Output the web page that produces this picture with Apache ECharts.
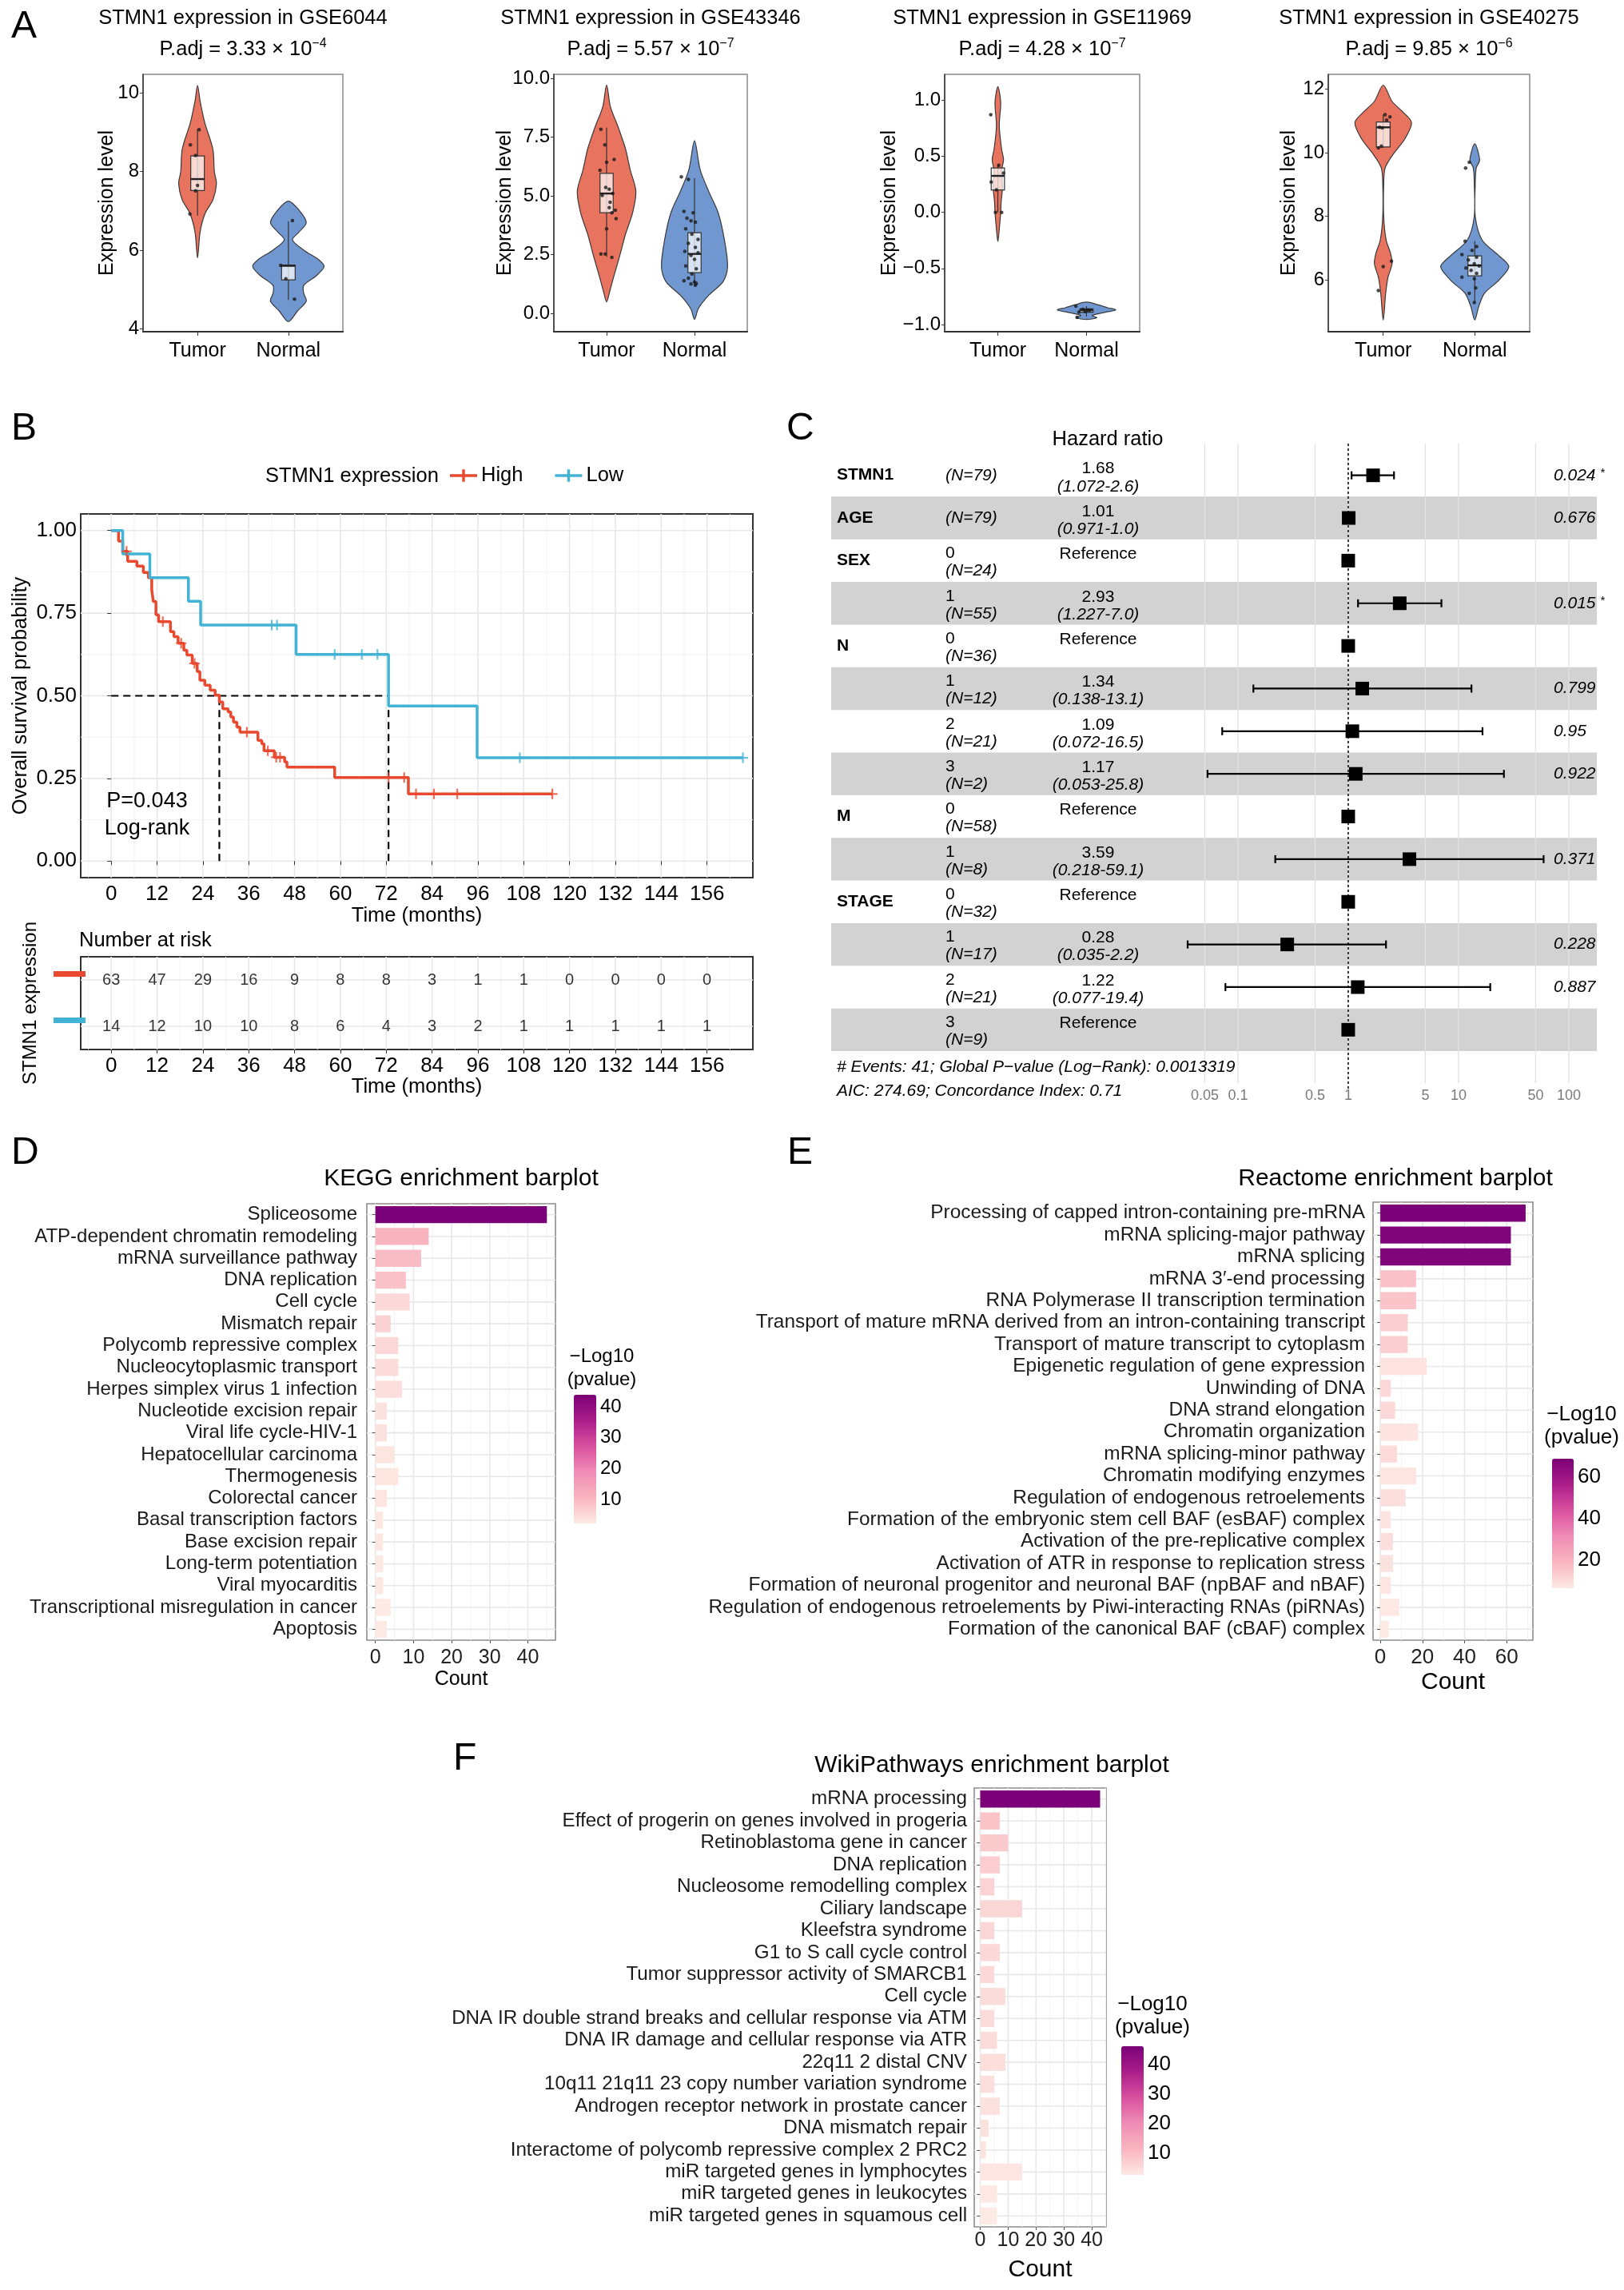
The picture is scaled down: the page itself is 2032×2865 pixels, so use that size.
<!DOCTYPE html>
<html>
<head>
<meta charset="utf-8">
<script src="https://cdn.jsdelivr.net/npm/echarts@6.0.0/dist/echarts.min.js"></script>
<style>
html,body{margin:0;padding:0;background:#ffffff;}
#chart{width:2032px;height:2865px;}
</style>
</head>
<body>
<div id="chart"></div>
<script>
// ====================== DATA ======================
// ---- Panel A: STMN1 expression violins ----
const groupNames = ['Tumor', 'Normal'];
const gseIds = ['GSE6044', 'GSE43346', 'GSE11969', 'GSE40275'];
const padjMantissa = ['3.33', '5.57', '4.28', '9.85'];
const padjExponent = ['−4', '−7', '−7', '−6'];

const gse6044Ticks = [4, 6, 8, 10];
const gse6044TumorY = [10.2, 9.8, 9.25, 8.57, 8.0, 7.69, 7.28, 6.94, 6.46, 5.8];
const gse6044TumorW = [0, 0.028, 0.079, 0.169, 0.185, 0.208, 0.169, 0.084, 0.028, 0];
const gse6044TumorBox = [6.88, 7.52, 7.81, 8.4, 9.08];
const gse6044TumorPts = [[0.017, 9.07], [-0.079, 8.68], [-0.022, 8.41], [0, 7.65], [-0.022, 7.51], [-0.084, 6.92]];
const gse6044NormalY = [7.25, 7.0, 6.7, 6.45, 6.26, 6.0, 5.75, 5.58, 5.35, 5.1, 4.9, 4.7, 4.45, 4.18];
const gse6044NormalW = [0, 0.124, 0.197, 0.112, 0.045, 0.169, 0.337, 0.393, 0.309, 0.169, 0.169, 0.197, 0.101, 0];
const gse6044NormalBox = [4.73, 5.24, 5.6, 5.62, 6.73];
const gse6044NormalPts = [[0.045, 6.75], [-0.084, 5.61], [-0.028, 5.27], [0.067, 4.75]];

const gse43346Ticks = [0, 2.5, 5, 7.5, 10];
const gse43346TumorY = [9.72, 8.8, 7.9, 7.0, 6.1, 5.2, 4.28, 3.37, 2.47, 1.56, 0.88, 0.49];
const gse43346TumorW = [0, 0.043, 0.134, 0.215, 0.269, 0.333, 0.296, 0.215, 0.151, 0.081, 0.032, 0];
const gse43346TumorBox = [2.41, 4.28, 5.1, 5.96, 7.9];
const gse43346TumorPts = [[-0.065, 7.83], [-0.02, 7.17], [0.086, 6.55], [0, 6.43], [-0.075, 6.09], [-0.01, 5.36], [0.03, 5.28], [0.07, 5.1], [-0.05, 5.02], [0.04, 4.73], [0.1, 4.39], [0.06, 4.28], [0.03, 4.5], [0.108, 4.03], [0, 3.6], [-0.065, 2.53], [-0.016, 2.53], [0.06, 2.38]];
const gse43346NormalY = [7.34, 6.1, 5.19, 4.28, 3.15, 2.0, 1.34, 0.77, 0.2, -0.25];
const gse43346NormalW = [0, 0.065, 0.161, 0.269, 0.339, 0.376, 0.323, 0.161, 0.043, 0];
const gse43346NormalBox = [1.15, 1.73, 2.53, 3.43, 5.75];
const gse43346NormalPts = [[-0.15, 5.81], [-0.07, 5.7], [-0.12, 4.34], [-0.016, 4.28], [-0.086, 4.05], [-0.04, 3.94], [0.01, 3.88], [-0.1, 3.6], [-0.03, 3.37], [0.04, 3.15], [-0.07, 2.98], [0.01, 2.81], [-0.11, 2.64], [0.04, 2.58], [-0.04, 2.47], [0, 2.3], [-0.1, 2.02], [0.02, 1.9], [-0.03, 1.68], [-0.07, 1.5], [-0.12, 1.39], [0, 1.34], [-0.04, 1.25], [0.02, 1.28], [0.01, 1.2]];

const gse11969Ticks = [-1, -0.5, 0, 0.5, 1];
const gse11969TumorY = [1.12, 0.98, 0.77, 0.56, 0.47, 0.37, 0.23, 0.09, 0.0, -0.15, -0.26];
const gse11969TumorW = [0, 0.032, 0.016, 0.043, 0.064, 0.043, 0.053, 0.037, 0.032, 0.016, 0];
const gse11969TumorBox = [0.0, 0.2, 0.325, 0.395, 0.42];
const gse11969TumorPts = [[-0.08, 0.87], [0.01, 0.42], [0.064, 0.35], [-0.075, 0.27], [-0.016, 0.2], [-0.027, 0.0], [0.043, 0.0]];
const gse11969NormalY = [-0.80, -0.825, -0.85, -0.87, -0.89, -0.92, -0.94, -0.955];
const gse11969NormalW = [0, 0.133, 0.239, 0.33, 0.213, 0.064, 0.117, 0];
const gse11969NormalBox = [-0.93, -0.89, -0.872, -0.86, -0.836];
const gse11969NormalPts = [[-0.12, -0.836], [-0.04, -0.865], [0.037, -0.872], [-0.016, -0.884], [-0.085, -0.889], [-0.106, -0.936], [0.01, -0.872]];

const gse40275Ticks = [6, 8, 10, 12];
const gse40275TumorY = [12.13, 11.62, 11.29, 10.95, 10.45, 9.94, 9.52, 9.0, 8.0, 7.25, 6.83, 6.5, 6.08, 5.57, 4.73];
const gse40275TumorW = [0, 0.096, 0.213, 0.309, 0.239, 0.106, 0.021, 0.005, 0.005, 0.032, 0.08, 0.096, 0.053, 0.027, 0];
const gse40275TumorBox = [10.15, 10.18, 10.8, 10.97, 11.2];
const gse40275TumorPts = [[0.02, 11.2], [0.074, 11.13], [0.037, 11.03], [-0.04, 10.8], [-0.01, 10.78], [-0.053, 10.15], [-0.02, 10.21], [0, 6.41], [0.09, 6.58], [-0.053, 5.66]];
const gse40275NormalY = [10.28, 9.77, 9.52, 9.0, 8.0, 7.25, 6.75, 6.41, 5.99, 5.57, 5.15, 4.73];
const gse40275NormalW = [0, 0.053, 0.016, 0.005, 0.005, 0.08, 0.266, 0.372, 0.266, 0.106, 0.043, 0];
const gse40275NormalBox = [5.28, 6.12, 6.45, 6.75, 7.21];
const gse40275NormalPts = [[-0.06, 9.7], [-0.1, 9.52], [-0.106, 7.21], [0.02, 7.04], [-0.03, 6.92], [-0.14, 6.79], [0.02, 6.71], [-0.07, 6.62], [-0.005, 6.5], [0.048, 6.43], [-0.096, 6.37], [-0.04, 6.29], [0.02, 6.2], [-0.14, 6.08], [-0.005, 6.03], [0.01, 5.74], [-0.06, 5.57], [-0.005, 5.28]];

// ---- Panel B: Kaplan-Meier ----
const kmTimeTicks = [0, 12, 24, 36, 48, 60, 72, 84, 96, 108, 120, 132, 144, 156];
const kmSurvTicks = [0, 0.25, 0.5, 0.75, 1];
const kmHighSteps = [[0,1],[1.9,0.968],[3,0.937],[4.3,0.907],[6.7,0.892],[8.4,0.873],[9.7,0.857],[10.6,0.82],[11,0.785],[11.7,0.745],[12.4,0.724],[15.5,0.694],[16.4,0.679],[17.5,0.659],[19,0.638],[19.8,0.623],[21.2,0.598],[22.5,0.573],[23.2,0.547],[24.5,0.532],[25.9,0.517],[27.2,0.502],[28.3,0.481],[29.2,0.461],[30.6,0.451],[31.3,0.436],[32,0.42],[32.9,0.405],[33.7,0.39],[38.4,0.365],[39.4,0.355],[40,0.334],[42.7,0.314],[45.4,0.3],[46,0.284],[58.5,0.253],[77.8,0.203],[115.5,0.203]];
const kmHighCensor = [[4,0.937],[13.5,0.724],[18.3,0.659],[21.8,0.598],[35.5,0.39],[41,0.334],[43.2,0.314],[44.2,0.314],[72.6,0.253],[76.7,0.253],[79.8,0.203],[84.5,0.203],[90.6,0.203],[115.5,0.203]];
const kmLowSteps = [[0,1],[3,0.929],[10.1,0.857],[20.2,0.786],[23.4,0.714],[48.4,0.625],[72.6,0.469],[95.8,0.3125],[165.4,0.3125]];
const kmLowCensor = [[42,0.714],[43.4,0.714],[58.5,0.625],[65.6,0.625],[69.7,0.625],[107,0.3125],[165.4,0.3125]];
const kmMedianHigh = 28.3;
const kmMedianLow = 72.6;
const riskHigh = [63, 47, 29, 16, 9, 8, 8, 3, 1, 1, 0, 0, 0, 0];
const riskLow = [14, 12, 10, 10, 8, 6, 4, 3, 2, 1, 1, 1, 1, 1];

// ---- Panel C: Cox forest ----
const coxVar = ['STMN1', 'AGE', 'SEX', '', 'N', '', '', '', 'M', '', 'STAGE', '', '', ''];
const coxLevel = ['', '', '0', '1', '0', '1', '2', '3', '0', '1', '0', '1', '2', '3'];
const coxN = [79, 79, 24, 55, 36, 12, 21, 2, 58, 8, 32, 17, 21, 9];
const coxRef = [false, false, true, false, true, false, false, false, true, false, true, false, false, true];
const coxHR = [1.68, 1.01, 1, 2.93, 1, 1.34, 1.09, 1.17, 1, 3.59, 1, 0.28, 1.22, 1];
const coxLo = [1.072, 0.971, null, 1.227, null, 0.138, 0.072, 0.053, null, 0.218, null, 0.035, 0.077, null];
const coxHi = [2.6, 1.0, null, 7.0, null, 13.1, 16.5, 25.8, null, 59.1, null, 2.2, 19.4, null];
const coxHRText = ['1.68', '1.01', '', '2.93', '', '1.34', '1.09', '1.17', '', '3.59', '', '0.28', '1.22', ''];
const coxCIText = ['(1.072-2.6)', '(0.971-1.0)', '', '(1.227-7.0)', '', '(0.138-13.1)', '(0.072-16.5)', '(0.053-25.8)', '', '(0.218-59.1)', '', '(0.035-2.2)', '(0.077-19.4)', ''];
const coxP = ['0.024', '0.676', '', '0.015', '', '0.799', '0.95', '0.922', '', '0.371', '', '0.228', '0.887', ''];
const coxSig = ['*', '', '', '*', '', '', '', '', '', '', '', '', '', ''];
const forestTicks = [0.05, 0.1, 0.5, 1, 5, 10, 50, 100];
const forestTickText = ['0.05', '0.1', '0.5', '1', '5', '10', '50', '100'];
const coxFooter1 = '# Events: 41; Global P−value (Log−Rank): 0.0013319';
const coxFooter2 = 'AIC: 274.69; Concordance Index: 0.71';

// ---- Panel D: KEGG ----
const keggTerms = ['Spliceosome','ATP-dependent chromatin remodeling','mRNA surveillance pathway','DNA replication','Cell cycle','Mismatch repair','Polycomb repressive complex','Nucleocytoplasmic transport','Herpes simplex virus 1 infection','Nucleotide excision repair','Viral life cycle-HIV-1','Hepatocellular carcinoma','Thermogenesis','Colorectal cancer','Basal transcription factors','Base excision repair','Long-term potentiation','Viral myocarditis','Transcriptional misregulation in cancer','Apoptosis'];
const keggCount = [45, 14, 12, 8, 9, 4, 6, 6, 7, 3, 3, 5, 6, 3, 2, 2, 2, 2, 4, 3];
const keggLogP = [43.9, 10.5, 9.5, 8.5, 5, 6, 5, 4.5, 4, 3.5, 3.5, 3, 3, 3, 2.6, 2.6, 2.4, 2.4, 2.2, 2.2];
const keggXTicks = [0, 10, 20, 30, 40];
const keggCbTicks = [10, 20, 30, 40];

// ---- Panel E: Reactome ----
const reactomeTerms = ['Processing of capped intron-containing pre-mRNA','mRNA splicing-major pathway','mRNA splicing','mRNA 3′-end processing','RNA Polymerase II transcription termination','Transport of mature mRNA derived from an intron-containing transcript','Transport of mature transcript to cytoplasm','Epigenetic regulation of gene expression','Unwinding of DNA','DNA strand elongation','Chromatin organization','mRNA splicing-minor pathway','Chromatin modifying enzymes','Regulation of endogenous retroelements','Formation of the embryonic stem cell BAF (esBAF) complex','Activation of the pre-replicative complex','Activation of ATR in response to replication stress','Formation of neuronal progenitor and neuronal BAF (npBAF and nBAF)','Regulation of endogenous retroelements by Piwi-interacting RNAs (piRNAs)','Formation of the canonical BAF (cBAF) complex'];
const reactomeCount = [69, 62, 62, 17, 17, 13, 13, 22, 5, 7, 18, 8, 17, 12, 5, 6, 6, 5, 9, 4];
const reactomeLogP = [68.9, 67, 67, 16, 15.5, 13, 13, 8, 10.5, 10.5, 8, 10, 7.5, 9, 8, 9, 8.5, 7.5, 7, 6.5];
const reactomeXTicks = [0, 20, 40, 60];
const reactomeCbTicks = [20, 40, 60];

// ---- Panel F: WikiPathways ----
const wikiTerms = ['mRNA processing','Effect of progerin on genes involved in progeria','Retinoblastoma gene in cancer','DNA replication','Nucleosome remodelling complex','Ciliary landscape','Kleefstra syndrome','G1 to S call cycle control','Tumor suppressor activity of SMARCB1','Cell cycle','DNA IR double strand breaks and cellular response via ATM','DNA IR damage and cellular response via ATR','22q11 2 distal CNV','10q11 21q11 23 copy number variation syndrome','Androgen receptor network in prostate cancer','DNA mismatch repair','Interactome of polycomb repressive complex 2 PRC2','miR targeted genes in lymphocytes','miR targeted genes in leukocytes','miR targeted genes in squamous cell'];
const wikiCount = [43, 7, 10, 7, 5, 15, 5, 7, 5, 9, 5, 6, 9, 5, 7, 3, 2, 15, 6, 6];
const wikiLogP = [46.2, 9, 8, 7.5, 6.5, 6, 6, 5.5, 5.5, 5, 5, 5, 4.5, 4.5, 4, 4, 3.8, 3.5, 3, 2.7];
const wikiXTicks = [0, 10, 20, 30, 40];
const wikiCbTicks = [10, 20, 30, 40];

// ====================== STYLE / BUILD ======================
const FONT = "'Liberation Sans', Arial, Helvetica, sans-serif";
const TUMOR_FILL = '#E8735E', NORMAL_FILL = '#7197D1';
const HIGH = '#E8492F', LOW = '#42B3D5';
const PALETTE = ['#FDEAE4', '#F9B5BF', '#F08CB6', '#D9509F', '#AB1E8A', '#7A0177'];
const PLUS = 'path://M-1,-6L1,-6L1,-1L6,-1L6,1L1,1L1,6L-1,6L-1,1L-6,1L-6,-1L-1,-1Z';
const LEG_ICON = 'path://M0,7L40,7L40,11L0,11Z M18,0L22,0L22,18L18,18Z';

const grids = [], xAxes = [], yAxes = [], series = [], graphics = [], visualMaps = [];
function addGrid(g, xa, ya) {
  g.outerBoundsMode = 'none';
  grids.push(g);
  const i = grids.length - 1;
  xa.gridIndex = i; ya.gridIndex = i;
  xa.nameMoveOverlap = false; ya.nameMoveOverlap = false;
  xAxes.push(xa); yAxes.push(ya);
  return i;
}
function txt(x, y, text, o) {
  graphics.push({type: 'text', x: x, y: y, silent: true, z: 100,
    style: Object.assign({text: text, fontFamily: FONT, fontSize: 25, fill: '#000', align: 'center', verticalAlign: 'middle'}, o || {})});
}
function nameStyle(fs) { return {fontSize: fs, fontFamily: FONT, color: '#000'}; }

function gridLineSeries(gi, o) {
  return {
    type: 'custom', xAxisIndex: gi, yAxisIndex: gi, silent: true, z: 0,
    data: [[o.xRef, o.yRef]],
    renderItem: function (params, api) {
      const cs = params.coordSys, ch = [];
      const V = (v, c, w) => { const x = api.coord([v, o.yRef])[0]; ch.push({type: 'line', shape: {x1: x, y1: cs.y, x2: x, y2: cs.y + cs.height}, style: {stroke: c, lineWidth: w}}); };
      const H = (v, c, w) => { const y = api.coord([o.xRef, v])[1]; ch.push({type: 'line', shape: {x1: cs.x, y1: y, x2: cs.x + cs.width, y2: y}, style: {stroke: c, lineWidth: w}}); };
      (o.xMinor || []).forEach(v => V(v, '#F3F3F3', 1));
      (o.yMinor || []).forEach(v => H(v, '#F3F3F3', 1));
      (o.xMajor || []).forEach(v => V(v, '#E8E8E8', 1.6));
      (o.yMajor || []).forEach(v => H(v, '#E8E8E8', 1.6));
      return {type: 'group', children: ch};
    }
  };
}

// ---------- Panel A ----------
const aLayout = [
  {left: 179, width: 250, range: [3.92, 10.48], nameGap: 32, fmt: v => String(v)},
  {left: 693, width: 242, range: [-0.78, 10.17], nameGap: 48, fmt: v => v.toFixed(1)},
  {left: 1182, width: 244, range: [-1.064, 1.23], nameGap: 56, fmt: v => v.toFixed(1).replace('-', '−')},
  {left: 1662, width: 252, range: [4.36, 12.47], nameGap: 36, fmt: v => String(v)}
];
const aData = [
  {ticks: gse6044Ticks, t: [gse6044TumorY, gse6044TumorW, gse6044TumorBox, gse6044TumorPts], n: [gse6044NormalY, gse6044NormalW, gse6044NormalBox, gse6044NormalPts]},
  {ticks: gse43346Ticks, t: [gse43346TumorY, gse43346TumorW, gse43346TumorBox, gse43346TumorPts], n: [gse43346NormalY, gse43346NormalW, gse43346NormalBox, gse43346NormalPts]},
  {ticks: gse11969Ticks, t: [gse11969TumorY, gse11969TumorW, gse11969TumorBox, gse11969TumorPts], n: [gse11969NormalY, gse11969NormalW, gse11969NormalBox, gse11969NormalPts]},
  {ticks: gse40275Ticks, t: [gse40275TumorY, gse40275TumorW, gse40275TumorBox, gse40275TumorPts], n: [gse40275NormalY, gse40275NormalW, gse40275NormalBox, gse40275NormalPts]}
];
function violinSeries(gi, xPos, ys, ws, box, fill) {
  return {
    type: 'custom', xAxisIndex: gi, yAxisIndex: gi, silent: true, z: 2,
    data: [[xPos, box[2]]],
    renderItem: function (params, api) {
      const cx = api.value(0);
      const right = ys.map((y, k) => api.coord([cx + ws[k], y]));
      const left = [];
      for (let k = ys.length - 2; k >= 1; k--) left.push(api.coord([cx - ws[k], ys[k]]));
      const bw = 0.075;
      const pLo = api.coord([cx, box[0]]), pHi = api.coord([cx, box[4]]);
      const q1 = api.coord([cx - bw, box[1]]), q3 = api.coord([cx + bw, box[3]]);
      const mL = api.coord([cx - bw, box[2]]), mR = api.coord([cx + bw, box[2]]);
      return {type: 'group', children: [
        {type: 'polygon', shape: {points: right.concat(left), smooth: 0.3}, style: {fill: fill, stroke: '#3a3a3a', lineWidth: 1.2}},
        {type: 'line', shape: {x1: pLo[0], y1: pLo[1], x2: pHi[0], y2: pHi[1]}, style: {stroke: '#333', lineWidth: 1.2}},
        {type: 'rect', shape: {x: q1[0], y: q3[1], width: q3[0] - q1[0], height: Math.max(q1[1] - q3[1], 1)}, style: {fill: 'rgba(255,255,255,0.72)', stroke: '#333', lineWidth: 1.2}},
        {type: 'line', shape: {x1: mL[0], y1: mL[1], x2: mR[0], y2: mR[1]}, style: {stroke: '#222', lineWidth: 2.4}}
      ]};
    }
  };
}
aLayout.forEach((L, k) => {
  const D = aData[k];
  const gi = addGrid({left: L.left, top: 93, width: L.width, height: 322, show: true, borderColor: '#8a8a8a', borderWidth: 1.5},
    {type: 'value', min: 0.4, max: 2.6,
      axisLine: {show: true, onZero: false, lineStyle: {color: '#333', width: 2.2}},
      axisTick: {show: true, customValues: [1, 2], length: 5, lineStyle: {color: '#333'}},
      axisLabel: {customValues: [1, 2], formatter: v => groupNames[Math.round(v) - 1], fontSize: 25, fontFamily: FONT, color: '#000', margin: 12},
      splitLine: {show: false}},
    {type: 'value', min: L.range[0], max: L.range[1],
      axisLine: {show: true, onZero: false, lineStyle: {color: '#333', width: 1.5}},
      axisTick: {show: true, customValues: D.ticks, length: 4, lineStyle: {color: '#333'}},
      axisLabel: {customValues: D.ticks, formatter: L.fmt, fontSize: 24, fontFamily: FONT, color: '#000', margin: 5},
      splitLine: {show: false},
      name: 'Expression level', nameLocation: 'middle', nameGap: L.nameGap, nameTextStyle: nameStyle(25)}
  );
  series.push(violinSeries(gi, 1, D.t[0], D.t[1], D.t[2], TUMOR_FILL));
  series.push(violinSeries(gi, 2, D.n[0], D.n[1], D.n[2], NORMAL_FILL));
  series.push({type: 'scatter', xAxisIndex: gi, yAxisIndex: gi, silent: true, z: 5, symbolSize: 4.5,
    itemStyle: {color: '#1a1a1a'},
    data: D.t[3].map(p => [1 + p[0], p[1]]).concat(D.n[3].map(p => [2 + p[0], p[1]]))});
  const cx = L.left + L.width / 2;
  txt(cx, 23, 'STMN1 expression in ' + gseIds[k], {fontSize: 25.5});
  txt(cx, 62, 'P.adj = ' + padjMantissa[k] + ' × 10{sup|' + padjExponent[k] + '}',
    {fontSize: 25.5, lineHeight: 30, rich: {sup: {fontSize: 16, fontFamily: FONT, verticalAlign: 'top', lineHeight: 14, fill: '#000'}}});
});

// ---------- Panel B ----------
const kmGi = addGrid({left: 101, top: 643, width: 841, height: 455, show: true, borderColor: '#333', borderWidth: 2},
  {type: 'value', min: -8, max: 168, axisLine: {show: false},
    axisTick: {show: true, customValues: kmTimeTicks, length: 5, lineStyle: {color: '#333'}},
    axisLabel: {customValues: kmTimeTicks, fontSize: 26, fontFamily: FONT, color: '#000', margin: 8},
    splitLine: {show: false},
    name: 'Time (months)', nameLocation: 'middle', nameGap: 35, nameTextStyle: nameStyle(25.5)},
  {type: 'value', min: -0.05, max: 1.05, axisLine: {show: false},
    axisTick: {show: true, customValues: kmSurvTicks, length: 5, lineStyle: {color: '#333'}},
    axisLabel: {customValues: kmSurvTicks, formatter: v => v.toFixed(2), fontSize: 26, fontFamily: FONT, color: '#000', margin: 5},
    splitLine: {show: false},
    name: 'Overall survival probability', nameLocation: 'middle', nameGap: 62, nameTextStyle: nameStyle(25.5)}
);
const kmMinorX = kmTimeTicks.map(t => t - 6).concat([162]);
series.push(gridLineSeries(kmGi, {xMajor: kmTimeTicks, xMinor: kmMinorX, yMajor: kmSurvTicks, yMinor: [0.125, 0.375, 0.625, 0.875], xRef: 0, yRef: 0}));
const dashStyle = {color: '#000', width: 2.2, type: [9, 6]};
[[[0, 0.5], [kmMedianLow, 0.5]], [[kmMedianHigh, 0], [kmMedianHigh, 0.5]], [[kmMedianLow, 0], [kmMedianLow, 0.5]]].forEach(d => {
  series.push({type: 'line', xAxisIndex: kmGi, yAxisIndex: kmGi, data: d, showSymbol: false, silent: true, z: 2, lineStyle: dashStyle, itemStyle: {color: '#000'}});
});
series.push({type: 'line', name: 'High', xAxisIndex: kmGi, yAxisIndex: kmGi, step: 'end', data: kmHighSteps, showSymbol: false, silent: true, z: 3, lineStyle: {color: HIGH, width: 3.5}, itemStyle: {color: HIGH}});
series.push({type: 'line', name: 'Low', xAxisIndex: kmGi, yAxisIndex: kmGi, step: 'end', data: kmLowSteps, showSymbol: false, silent: true, z: 3, lineStyle: {color: LOW, width: 3.5}, itemStyle: {color: LOW}});
series.push({type: 'scatter', name: 'High censored', xAxisIndex: kmGi, yAxisIndex: kmGi, data: kmHighCensor, symbol: PLUS, symbolSize: 13, silent: true, z: 4, itemStyle: {color: HIGH}});
series.push({type: 'scatter', name: 'Low censored', xAxisIndex: kmGi, yAxisIndex: kmGi, data: kmLowCensor, symbol: PLUS, symbolSize: 13, silent: true, z: 4, itemStyle: {color: LOW}});
txt(332, 596, 'STMN1 expression', {align: 'left', fontSize: 25.5});
txt(184, 1003, 'P=0.043', {fontSize: 27});
txt(184, 1037, 'Log-rank', {fontSize: 27});

// risk table
const rkGi = addGrid({left: 101, top: 1197, width: 841, height: 116, show: true, borderColor: '#333', borderWidth: 2},
  {type: 'value', min: -8, max: 168, axisLine: {show: false},
    axisTick: {show: true, customValues: kmTimeTicks, length: 5, lineStyle: {color: '#333'}},
    axisLabel: {customValues: kmTimeTicks, fontSize: 26, fontFamily: FONT, color: '#000', margin: 8},
    splitLine: {show: false},
    name: 'Time (months)', nameLocation: 'middle', nameGap: 34, nameTextStyle: nameStyle(25.5)},
  {type: 'category', data: ['High', 'Low'], inverse: true, axisLine: {show: false}, axisTick: {show: false},
    axisLabel: {formatter: v => '{' + v + '| }', margin: -6, verticalAlign: 'bottom', padding: [0, 0, 4, 0],
      rich: {High: {backgroundColor: HIGH, width: 40, height: 7}, Low: {backgroundColor: LOW, width: 40, height: 7}}},
    splitLine: {show: false},
    name: 'STMN1 expression', nameLocation: 'middle', nameGap: 51, nameRotate: 90, nameTextStyle: nameStyle(24)}
);
series.push(gridLineSeries(rkGi, {xMajor: kmTimeTicks, xMinor: kmMinorX, yMajor: [0, 1], xRef: 0, yRef: 0}));
[[riskHigh, 0], [riskLow, 1]].forEach(r => {
  series.push({type: 'scatter', xAxisIndex: rkGi, yAxisIndex: rkGi, silent: true, z: 5, symbolSize: 1,
    itemStyle: {color: 'rgba(0,0,0,0)'},
    label: {show: true, position: 'inside', formatter: p => String(p.value[2]), fontSize: 20, fontFamily: FONT, color: '#000'},
    data: kmTimeTicks.map((t, i) => [t, r[1], r[0][i]])});
});
txt(99, 1177, 'Number at risk', {align: 'left', fontSize: 25.5});

// ---------- Panel C ----------
const fGi = addGrid({left: 1040, top: 568, width: 958, height: 747, show: false},
  {type: 'value', min: -4.688, max: 2.254, axisLine: {show: false}, axisTick: {show: false},
    axisLabel: {customValues: forestTicks.map(t => Math.log10(t)),
      formatter: v => { let k = 0; forestTicks.forEach((t, i) => { if (Math.abs(Math.log10(t) - v) < Math.abs(Math.log10(forestTicks[k]) - v)) k = i; }); return forestTickText[k]; },
      fontSize: 18, fontFamily: FONT, color: '#7a7a7a', margin: 47},
    splitLine: {show: false}},
  {type: 'category', data: coxN.map((_, i) => String(i)), inverse: true, show: false}
);
series.push({type: 'custom', xAxisIndex: fGi, yAxisIndex: fGi, silent: true, z: 1,
  data: coxN.map((_, i) => [0, i]),
  renderItem: function (params, api) {
    const i = params.dataIndex;
    if (i % 2 === 0) return null;
    const cs = params.coordSys;
    const yc = api.coord([0, i])[1], h = api.size([0, 1])[1];
    return {type: 'rect', shape: {x: cs.x, y: yc - h / 2, width: cs.width, height: h}, style: {fill: '#D2D2D2'}};
  }});
series.push({type: 'custom', xAxisIndex: fGi, yAxisIndex: fGi, silent: true, z: 2,
  data: [[0, 0]],
  renderItem: function (params, api) {
    const cs = params.coordSys, ch = [];
    forestTicks.forEach(t => {
      const x = api.coord([Math.log10(t), 0])[0];
      ch.push({type: 'line', shape: {x1: x, y1: cs.y - 13, x2: x, y2: cs.y + cs.height + 40}, style: {stroke: '#E2E2E2', lineWidth: 1.3}});
    });
    const x1 = api.coord([0, 0])[0];
    ch.push({type: 'line', shape: {x1: x1, y1: cs.y - 13, x2: x1, y2: cs.y + cs.height + 48}, style: {stroke: '#111', lineWidth: 1.6, lineDash: [3, 3]}});
    return {type: 'group', children: ch};
  }});
series.push({type: 'custom', xAxisIndex: fGi, yAxisIndex: fGi, silent: true, z: 4,
  data: coxHR.map((v, i) => [Math.log10(v), i]),
  renderItem: function (params, api) {
    const i = params.dataIndex, ch = [];
    const yc = api.coord([0, i])[1];
    if (coxLo[i] != null) {
      const a = api.coord([Math.log10(coxLo[i]), i])[0], b = api.coord([Math.log10(coxHi[i]), i])[0];
      const st = {stroke: '#000', lineWidth: 2.2};
      ch.push({type: 'line', shape: {x1: a, y1: yc, x2: b, y2: yc}, style: st});
      ch.push({type: 'line', shape: {x1: a, y1: yc - 5, x2: a, y2: yc + 5}, style: st});
      ch.push({type: 'line', shape: {x1: b, y1: yc - 5, x2: b, y2: yc + 5}, style: st});
    }
    const c = api.coord([api.value(0), i])[0];
    ch.push({type: 'rect', shape: {x: c - 8.5, y: yc - 8.5, width: 17, height: 17}, style: {fill: '#000'}});
    return {type: 'group', children: ch};
  }});
series.push({type: 'custom', xAxisIndex: fGi, yAxisIndex: fGi, silent: true, z: 4,
  data: coxN.map((_, i) => [0, i]),
  renderItem: function (params, api) {
    const i = params.dataIndex, cs = params.coordSys, ch = [];
    const yc = api.coord([0, i])[1], x0 = cs.x;
    const T = (x, y, text, st) => ch.push({type: 'text', x: x, y: y,
      style: Object.assign({text: text, fontFamily: FONT, fontSize: 21, fill: '#000', align: 'left', verticalAlign: 'middle'}, st || {})});
    if (coxVar[i]) T(x0 + 7, yc, coxVar[i], {fontWeight: 'bold'});
    if (coxLevel[i] !== '') { T(x0 + 143, yc - 9, coxLevel[i]); T(x0 + 143, yc + 13, '(N=' + coxN[i] + ')', {fontStyle: 'italic'}); }
    else T(x0 + 143, yc, '(N=' + coxN[i] + ')', {fontStyle: 'italic'});
    if (coxRef[i]) T(x0 + 334, yc - 8, 'Reference', {align: 'center'});
    else { T(x0 + 334, yc - 8, coxHRText[i], {align: 'center'}); T(x0 + 334, yc + 14, coxCIText[i], {align: 'center', fontStyle: 'italic'}); }
    if (coxP[i]) T(x0 + 904, yc, coxP[i] + (coxSig[i] ? ' {s|' + coxSig[i] + '}' : ''),
      {fontStyle: 'italic', rich: {s: {fontSize: 15, fontFamily: FONT, verticalAlign: 'top', lineHeight: 12, fill: '#000'}}});
    return {type: 'group', children: ch};
  }});
txt(1386, 550, 'Hazard ratio', {fontSize: 25.5});
txt(1047, 1335, coxFooter1, {align: 'left', fontSize: 21, fontStyle: 'italic'});
txt(1047, 1365, coxFooter2, {align: 'left', fontSize: 21, fontStyle: 'italic'});

// ---------- Panels D, E, F ----------
function barPanel(o) {
  const gi = addGrid({left: o.left, top: o.top, width: o.width, height: o.height, show: true, borderColor: '#8c8c8c', borderWidth: 1.6},
    {type: 'value', min: o.xMin, max: o.xMax, axisLine: {show: false},
      axisTick: {show: true, customValues: o.xTicks, length: 4, lineStyle: {color: '#555'}},
      axisLabel: {customValues: o.xTicks, fontSize: o.tickFont, fontFamily: FONT, color: '#222', margin: o.tickMargin},
      splitLine: {show: false},
      name: 'Count', nameLocation: 'middle', nameGap: o.nameGap, nameTextStyle: nameStyle(o.nameFont)},
    {type: 'category', data: o.terms, inverse: true, axisLine: {show: false},
      axisTick: {show: true, alignWithLabel: true, length: 4, lineStyle: {color: '#555'}},
      axisLabel: {interval: 0, fontSize: o.labelFont, fontFamily: FONT, color: '#1a1a1a', margin: o.labelMargin},
      splitLine: {show: false}}
  );
  const xMinor = o.xTicks.map(t => t + (o.xTicks[1] - o.xTicks[0]) / 2);
  series.push(gridLineSeries(gi, {xMajor: o.xTicks, xMinor: xMinor, yMajor: o.terms.map((_, i) => i), xRef: 0, yRef: 0}));
  series.push({type: 'bar', xAxisIndex: gi, yAxisIndex: gi, silent: true, z: 3, barWidth: '78%',
    encode: {x: 0, y: 1},
    data: o.counts.map((c, i) => [c, i, o.logp[i]])});
  const si = series.length - 1;
  const vmin = Math.min.apply(null, o.logp), vmax = Math.max.apply(null, o.logp);
  visualMaps.push({type: 'continuous', seriesIndex: si, dimension: 2, min: vmin, max: vmax,
    inRange: {color: PALETTE}, left: o.cb.left, top: o.cb.top, itemWidth: o.cb.w, itemHeight: o.cb.h,
    padding: 0, calculable: false, hoverLink: false});
  addGrid({left: o.cb.left, top: o.cb.top, width: o.cb.w, height: o.cb.h, show: false},
    {type: 'value', show: false, min: 0, max: 1},
    {type: 'value', position: 'right', min: vmin, max: vmax, axisLine: {show: false}, axisTick: {show: false}, splitLine: {show: false},
      axisLabel: {customValues: o.cbTicks, fontSize: o.cbFont, fontFamily: FONT, color: '#000', margin: 5}});
  txt(o.title[0], o.title[1], o.titleText, {fontSize: 30});
  txt(o.cbTitle[0], o.cbTitle[1], '−Log10', {fontSize: o.cbFont});
  txt(o.cbTitle[0], o.cbTitle[1] + 29, '(pvalue)', {fontSize: o.cbFont});
}
barPanel({left: 459, top: 1506, width: 236, height: 546, terms: keggTerms, counts: keggCount, logp: keggLogP,
  xMin: -2.25, xMax: 47.25, xTicks: keggXTicks, tickFont: 25, tickMargin: 10, nameGap: 37, nameFont: 25, labelMargin: 12, labelFont: 24,
  cb: {left: 718, top: 1745, w: 28, h: 161}, cbTicks: keggCbTicks, cbFont: 24, cbTitle: [753, 1697],
  title: [577, 1475], titleText: 'KEGG enrichment barplot'});
barPanel({left: 1718, top: 1504, width: 200, height: 548, terms: reactomeTerms, counts: reactomeCount, logp: reactomeLogP,
  xMin: -3.45, xMax: 72.45, xTicks: reactomeXTicks, tickFont: 26, tickMargin: 9, nameGap: 38, nameFont: 30, labelMargin: 10, labelFont: 24.4,
  cb: {left: 1942, top: 1825, w: 27, h: 162}, cbTicks: reactomeCbTicks, cbFont: 26, cbTitle: [1979, 1770],
  title: [1746, 1475], titleText: 'Reactome enrichment barplot'});
barPanel({left: 1219, top: 2237, width: 165, height: 549, terms: wikiTerms, counts: wikiCount, logp: wikiLogP,
  xMin: -2.15, xMax: 45.15, xTicks: wikiXTicks, tickFont: 25, tickMargin: 5, nameGap: 39, nameFont: 30, labelMargin: 9, labelFont: 24.2,
  cb: {left: 1403, top: 2560, w: 28, h: 161}, cbTicks: wikiCbTicks, cbFont: 26, cbTitle: [1442, 2508],
  title: [1241, 2209], titleText: 'WikiPathways enrichment barplot'});

// ---------- Panel letters ----------
[['A', 14, 34], ['B', 14, 537], ['C', 984, 537], ['D', 14, 1443], ['E', 985, 1443], ['F', 567, 2201]].forEach(p => {
  txt(p[1], p[2], p[0], {align: 'left', fontSize: 48});
});

const chart = echarts.init(document.getElementById('chart'), null, {renderer: 'canvas', width: 2032, height: 2865});
chart.setOption({
  animation: false,
  backgroundColor: '#ffffff',
  textStyle: {fontFamily: FONT},
  grid: grids, xAxis: xAxes, yAxis: yAxes,
  series: series,
  visualMap: visualMaps,
  legend: [{
    data: [{name: 'High', icon: LEG_ICON}, {name: 'Low', icon: LEG_ICON}],
    left: 563, top: 582, itemWidth: 34, itemHeight: 16, itemGap: 40, selectedMode: false, padding: 0,
    textStyle: {fontSize: 25.5, fontFamily: FONT, color: '#000'}
  }],
  graphic: {elements: graphics}
});
</script>
</body>
</html>
